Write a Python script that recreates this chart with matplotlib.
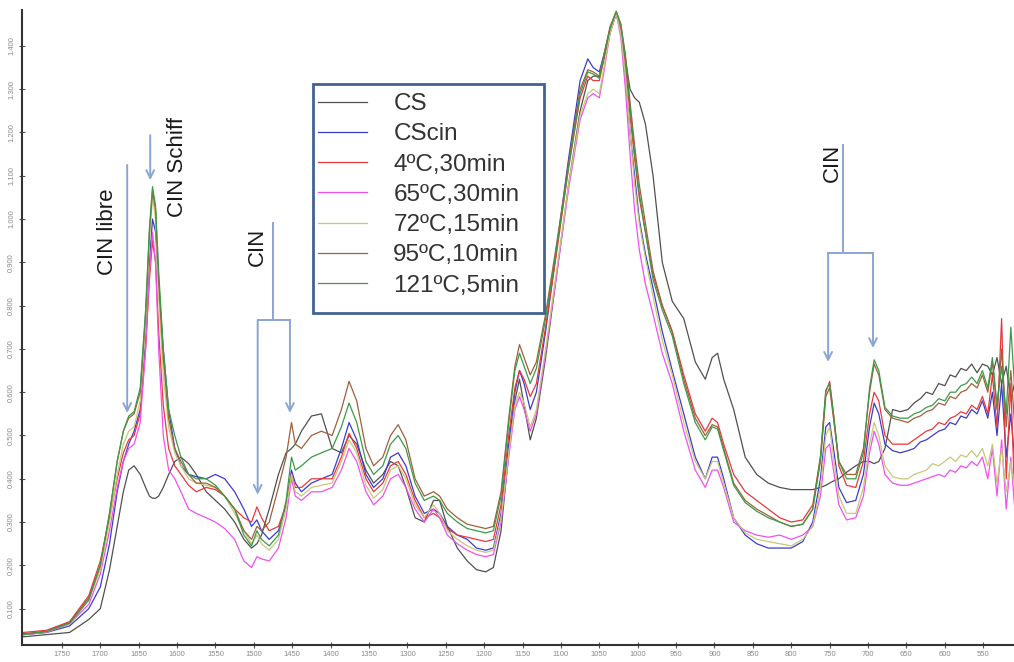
import numpy as np
import matplotlib
matplotlib.use("Agg")
import matplotlib.pyplot as plt
from matplotlib.patches import Rectangle
from matplotlib.ticker import FormatStrFormatter

plt.rcParams['font.family'] = ['Liberation Sans', 'DejaVu Sans']

# wavenumber grid (cm-1)
wavenumber = [
    1800, 1770, 1740, 1715, 1700, 1688, 1678, 1670, 1663, 1656, 1648, 1641, 1636, 1632, 1628, 1624, 1618, 1611, 1603, 1595, 1585, 1575, 1562,
    1550, 1538, 1525, 1513, 1503, 1496, 1490, 1480, 1468, 1458, 1451, 1446, 1438, 1425, 1412, 1398, 1386, 1376, 1366, 1354, 1344, 1332, 1322, 1312, 1302, 1290, 1278, 1266, 1258, 1248, 1235, 1222, 1210, 1198, 1188,
    1178, 1168, 1160, 1154, 1148, 1140, 1132, 1120, 1105, 1090, 1075, 1065, 1058, 1050, 1044, 1036, 1028, 1022, 1016, 1010, 1004, 998, 990, 980, 968,
    955, 940, 925, 912, 903, 896, 888, 875, 860, 845, 830, 815, 800, 785, 772, 762, 755, 750, 745, 738, 728, 716, 706, 698, 692, 686, 678, 668, 658,
    648, 640, 632, 624, 616, 608, 600, 593, 586, 579, 572, 565, 558, 551, 544, 538, 532, 526, 520, 514, 508,
]

cs = [
    0.035, 0.040, 0.045, 0.075, 0.100, 0.190, 0.290, 0.370, 0.420, 0.430, 0.410, 0.380, 0.360, 0.355, 0.355, 0.360, 0.380, 0.410, 0.440, 0.450, 0.435, 0.410, 0.370,
    0.350, 0.330, 0.300, 0.260, 0.240, 0.250, 0.270, 0.330, 0.410, 0.460, 0.470, 0.480, 0.510, 0.545, 0.550, 0.470, 0.460, 0.500, 0.480, 0.420, 0.390, 0.410, 0.440, 0.430, 0.380, 0.310, 0.300, 0.350, 0.350, 0.290, 0.240, 0.210, 0.190, 0.185, 0.195,
    0.280, 0.460, 0.580, 0.630, 0.570, 0.490, 0.540, 0.680, 0.880, 1.080, 1.250, 1.320, 1.330, 1.330, 1.370, 1.430, 1.475, 1.440, 1.370, 1.300, 1.280, 1.270, 1.220, 1.100, 0.900,
    0.810, 0.770, 0.670, 0.630, 0.680, 0.690, 0.630, 0.560, 0.450, 0.410, 0.390, 0.380, 0.375, 0.375, 0.375, 0.380, 0.385, 0.390, 0.395, 0.400, 0.415, 0.430, 0.440, 0.440, 0.435, 0.440, 0.470, 0.560, 0.555,
    0.560, 0.575, 0.585, 0.600, 0.595, 0.620, 0.615, 0.640, 0.635, 0.655, 0.650, 0.665, 0.645, 0.665, 0.660, 0.640, 0.680, 0.620, 0.660, 0.580, 0.630,
]

cscin = [
    0.040, 0.045, 0.060, 0.100, 0.150, 0.250, 0.370, 0.440, 0.480, 0.510, 0.560, 0.720, 0.900, 1.000, 0.970, 0.850, 0.700, 0.560, 0.470, 0.430, 0.410, 0.405, 0.400,
    0.410, 0.400, 0.370, 0.330, 0.290, 0.305, 0.280, 0.260, 0.280, 0.340, 0.420, 0.390, 0.370, 0.390, 0.400, 0.410, 0.470, 0.530, 0.490, 0.410, 0.380, 0.400, 0.450, 0.460, 0.430, 0.360, 0.320, 0.330, 0.320, 0.290, 0.270, 0.260, 0.240, 0.235, 0.240,
    0.320, 0.480, 0.600, 0.650, 0.620, 0.560, 0.600, 0.740, 0.940, 1.140, 1.320, 1.370, 1.350, 1.340, 1.380, 1.440, 1.475, 1.430, 1.330, 1.200, 1.100, 1.000, 0.920, 0.840, 0.740,
    0.650, 0.550, 0.450, 0.400, 0.450, 0.450, 0.400, 0.310, 0.270, 0.250, 0.240, 0.240, 0.240, 0.255, 0.300, 0.400, 0.520, 0.530, 0.470, 0.380, 0.345, 0.350, 0.410, 0.520, 0.575, 0.550, 0.480, 0.465, 0.460,
    0.465, 0.470, 0.485, 0.490, 0.500, 0.510, 0.515, 0.530, 0.525, 0.545, 0.540, 0.560, 0.550, 0.580, 0.540, 0.600, 0.500, 0.620, 0.450, 0.550, 0.420,
]

t4_30 = [
    0.045, 0.050, 0.070, 0.130, 0.210, 0.310, 0.400, 0.460, 0.490, 0.500, 0.550, 0.700, 0.860, 0.950, 0.900, 0.740, 0.570, 0.470, 0.430, 0.410, 0.385, 0.370, 0.380,
    0.375, 0.360, 0.330, 0.310, 0.300, 0.335, 0.310, 0.280, 0.290, 0.340, 0.410, 0.380, 0.380, 0.400, 0.400, 0.400, 0.450, 0.505, 0.470, 0.400, 0.370, 0.390, 0.430, 0.440, 0.410, 0.350, 0.310, 0.320, 0.310, 0.285, 0.270, 0.265, 0.260, 0.255, 0.260,
    0.340, 0.500, 0.610, 0.650, 0.630, 0.590, 0.620, 0.750, 0.930, 1.120, 1.280, 1.330, 1.320, 1.320, 1.370, 1.440, 1.475, 1.440, 1.360, 1.240, 1.140, 1.050, 0.970, 0.870, 0.800,
    0.740, 0.640, 0.550, 0.510, 0.540, 0.530, 0.480, 0.410, 0.370, 0.350, 0.330, 0.310, 0.300, 0.305, 0.340, 0.450, 0.600, 0.625, 0.550, 0.430, 0.385, 0.380, 0.440, 0.550, 0.600, 0.580, 0.500, 0.480, 0.480,
    0.480, 0.490, 0.500, 0.510, 0.515, 0.530, 0.525, 0.540, 0.545, 0.555, 0.550, 0.570, 0.560, 0.590, 0.550, 0.640, 0.520, 0.770, 0.400, 0.620, 0.300,
]

t65_30 = [
    0.040, 0.045, 0.065, 0.110, 0.180, 0.280, 0.380, 0.440, 0.470, 0.480, 0.530, 0.700, 0.880, 0.970, 0.900, 0.700, 0.500, 0.420, 0.400, 0.370, 0.330, 0.320, 0.310,
    0.300, 0.285, 0.260, 0.210, 0.195, 0.220, 0.215, 0.210, 0.240, 0.310, 0.400, 0.360, 0.350, 0.370, 0.370, 0.380, 0.420, 0.470, 0.440, 0.370, 0.340, 0.360, 0.400, 0.410, 0.380, 0.330, 0.300, 0.330, 0.310, 0.270, 0.250, 0.235, 0.225, 0.220, 0.225,
    0.300, 0.450, 0.560, 0.590, 0.560, 0.510, 0.550, 0.690, 0.880, 1.070, 1.230, 1.280, 1.290, 1.280, 1.340, 1.430, 1.475, 1.420, 1.300, 1.150, 1.020, 0.930, 0.850, 0.780, 0.690,
    0.620, 0.510, 0.420, 0.380, 0.420, 0.420, 0.380, 0.300, 0.280, 0.270, 0.265, 0.270, 0.260, 0.270, 0.290, 0.360, 0.470, 0.480, 0.420, 0.340, 0.305, 0.310, 0.360, 0.460, 0.510, 0.480, 0.410, 0.390, 0.385,
    0.385, 0.390, 0.395, 0.400, 0.405, 0.410, 0.405, 0.420, 0.415, 0.430, 0.425, 0.440, 0.430, 0.450, 0.400, 0.470, 0.360, 0.490, 0.330, 0.450, 0.310,
]

t72_15 = [
    0.040, 0.047, 0.065, 0.120, 0.190, 0.300, 0.410, 0.480, 0.510, 0.520, 0.580, 0.760, 0.950, 1.050, 1.000, 0.820, 0.640, 0.520, 0.460, 0.430, 0.400, 0.390, 0.385,
    0.380, 0.360, 0.320, 0.280, 0.250, 0.270, 0.250, 0.235, 0.260, 0.330, 0.410, 0.370, 0.360, 0.380, 0.385, 0.390, 0.440, 0.490, 0.460, 0.385, 0.355, 0.375, 0.420, 0.430, 0.400, 0.340, 0.310, 0.340, 0.320, 0.280, 0.260, 0.245, 0.235, 0.230, 0.235,
    0.310, 0.460, 0.570, 0.600, 0.575, 0.520, 0.560, 0.700, 0.890, 1.080, 1.240, 1.290, 1.300, 1.290, 1.350, 1.430, 1.475, 1.430, 1.330, 1.200, 1.080, 0.990, 0.910, 0.820, 0.720,
    0.640, 0.530, 0.440, 0.400, 0.440, 0.440, 0.390, 0.310, 0.275, 0.260, 0.255, 0.250, 0.245, 0.260, 0.290, 0.380, 0.500, 0.520, 0.450, 0.360, 0.320, 0.320, 0.380, 0.480, 0.530, 0.500, 0.430, 0.405, 0.400,
    0.400, 0.410, 0.415, 0.420, 0.435, 0.430, 0.440, 0.450, 0.440, 0.455, 0.450, 0.465, 0.450, 0.470, 0.430, 0.480, 0.390, 0.470, 0.370, 0.440, 0.360,
]

t95_10 = [
    0.042, 0.048, 0.068, 0.125, 0.200, 0.320, 0.440, 0.510, 0.540, 0.550, 0.600, 0.780, 0.970, 1.065, 1.020, 0.860, 0.680, 0.540, 0.470, 0.440, 0.410, 0.390, 0.390,
    0.380, 0.360, 0.330, 0.280, 0.260, 0.290, 0.280, 0.300, 0.380, 0.450, 0.530, 0.480, 0.470, 0.500, 0.510, 0.500, 0.560, 0.625, 0.580, 0.470, 0.430, 0.450, 0.500, 0.525, 0.490, 0.400, 0.360, 0.370, 0.360, 0.330, 0.310, 0.295, 0.290, 0.285, 0.290,
    0.370, 0.540, 0.660, 0.710, 0.680, 0.640, 0.670, 0.780, 0.950, 1.130, 1.300, 1.345, 1.340, 1.330, 1.380, 1.445, 1.480, 1.450, 1.380, 1.270, 1.170, 1.080, 0.990, 0.880, 0.800,
    0.740, 0.630, 0.540, 0.500, 0.525, 0.520, 0.470, 0.390, 0.350, 0.330, 0.315, 0.300, 0.290, 0.295, 0.330, 0.440, 0.590, 0.610, 0.540, 0.440, 0.410, 0.410, 0.470, 0.600, 0.665, 0.640, 0.560, 0.540, 0.535,
    0.530, 0.540, 0.545, 0.555, 0.560, 0.575, 0.570, 0.590, 0.585, 0.600, 0.605, 0.620, 0.610, 0.640, 0.600, 0.670, 0.560, 0.700, 0.520, 0.650, 0.500,
]

t121_5 = [
    0.040, 0.047, 0.066, 0.120, 0.200, 0.320, 0.440, 0.510, 0.545, 0.555, 0.610, 0.790, 0.980, 1.075, 1.030, 0.880, 0.700, 0.560, 0.500, 0.450, 0.410, 0.400, 0.400,
    0.385, 0.360, 0.330, 0.270, 0.245, 0.280, 0.260, 0.245, 0.270, 0.350, 0.450, 0.420, 0.430, 0.450, 0.460, 0.470, 0.520, 0.575, 0.530, 0.440, 0.410, 0.430, 0.480, 0.500, 0.470, 0.390, 0.350, 0.360, 0.350, 0.320, 0.300, 0.285, 0.280, 0.275, 0.280,
    0.360, 0.530, 0.650, 0.690, 0.660, 0.620, 0.655, 0.770, 0.940, 1.120, 1.290, 1.340, 1.335, 1.325, 1.375, 1.440, 1.480, 1.450, 1.370, 1.260, 1.150, 1.060, 0.970, 0.860, 0.790,
    0.730, 0.620, 0.530, 0.490, 0.520, 0.515, 0.465, 0.385, 0.345, 0.325, 0.310, 0.300, 0.290, 0.295, 0.330, 0.450, 0.605, 0.620, 0.550, 0.440, 0.400, 0.400, 0.460, 0.610, 0.675, 0.650, 0.565, 0.545, 0.540,
    0.540, 0.550, 0.555, 0.565, 0.570, 0.585, 0.580, 0.600, 0.600, 0.615, 0.620, 0.635, 0.620, 0.650, 0.610, 0.680, 0.570, 0.660, 0.550, 0.750, 0.580,
]

labels = ["CS", "CScin", "4ºC,30min", "65ºC,30min", "72ºC,15min", "95ºC,10min", "121ºC,5min"]
series = [cs, cscin, t4_30, t65_30, t72_15, t95_10, t121_5]
colors = ["#505050", "#3c3ccc", "#e8383d", "#f050f0", "#c8c878", "#a0603a", "#3c9a48"]

xticks = list(range(500, 1751, 50))
xtick_labels = [''] + [str(v) for v in xticks[1:]]   # 500 sits on the image edge

fig = plt.figure(figsize=(10.14, 6.62), dpi=100)
ax = fig.add_axes([22/1014, 17/662, (1040-22)/1014, 635/662])

for y, lab, c in zip(series, labels, colors):
    ax.plot(wavenumber, y, color=c, lw=0.9, label=lab)

ax.set_xlim(1802, 476)
ax.set_ylim(0.016, 1.483)
ax.set_xticks(xticks)
ax.set_xticklabels(xtick_labels)
ax.set_yticks(np.arange(0.1, 1.41, 0.1))
ax.yaxis.set_major_formatter(FormatStrFormatter('%.3f'))

for s in ['top', 'right']:
    ax.spines[s].set_visible(False)
for s in ['left', 'bottom']:
    ax.spines[s].set_color('#333333')
    ax.spines[s].set_linewidth(1.5)

ax.tick_params(axis='both', direction='inout', length=4, width=0.8, color='#555555',
               labelsize=5.5, labelcolor='#8a8a8a')
ax.tick_params(axis='x', pad=2)
ax.tick_params(axis='y', pad=3, labelrotation=90)
for t in ax.get_yticklabels():
    t.set_va('center')

# annotations
acol = '#8aa6d2'
aprops = dict(arrowstyle='->', color=acol, lw=1.4, shrinkA=0, shrinkB=0, mutation_scale=14)
tcol = '#1a1a1a'

ax.annotate('', xy=(1665, 0.552), xytext=(1665, 1.125), arrowprops=aprops)
ax.text(1691, 0.97, 'CIN libre', rotation=90, ha='center', va='center', fontsize=16, color=tcol)

ax.annotate('', xy=(1635, 1.09), xytext=(1635, 1.194), arrowprops=aprops)
ax.text(1599, 1.12, 'CIN Schiff', rotation=90, ha='center', va='center', fontsize=16, color=tcol)

ax.plot([1475, 1475], [0.99, 0.767], color=acol, lw=1.4)
ax.plot([1495, 1453], [0.767, 0.767], color=acol, lw=1.4)
ax.annotate('', xy=(1495, 0.363), xytext=(1495, 0.767), arrowprops=aprops)
ax.annotate('', xy=(1453, 0.552), xytext=(1453, 0.767), arrowprops=aprops)
ax.text(1495, 0.935, 'CIN', rotation=90, ha='center', va='center', fontsize=16, color=tcol)

ax.plot([732.5, 732.5], [1.171, 0.921], color=acol, lw=1.4)
ax.plot([752, 693.5], [0.921, 0.921], color=acol, lw=1.4)
ax.annotate('', xy=(752, 0.670), xytext=(752, 0.921), arrowprops=aprops)
ax.annotate('', xy=(693.5, 0.702), xytext=(693.5, 0.921), arrowprops=aprops)
ax.text(746, 1.13, 'CIN', rotation=90, ha='center', va='center', fontsize=16, color=tcol)

# legend: entries without frame, box drawn separately
leg = ax.legend(loc='upper left', bbox_to_anchor=(318/1014, 1-93/662), bbox_transform=fig.transFigure,
                borderaxespad=0, fontsize=17.5, frameon=False,
                handlelength=2.0, handletextpad=1.1, labelspacing=0.34, borderpad=0)
for t in leg.get_texts():
    t.set_color('#333333')
fig.patches.append(Rectangle((313/1014, 1-313/662), 231/1014, 229/662, transform=fig.transFigure,
                             fill=False, edgecolor='#44628f', linewidth=2))

fig.savefig('out.png', dpi=100)
